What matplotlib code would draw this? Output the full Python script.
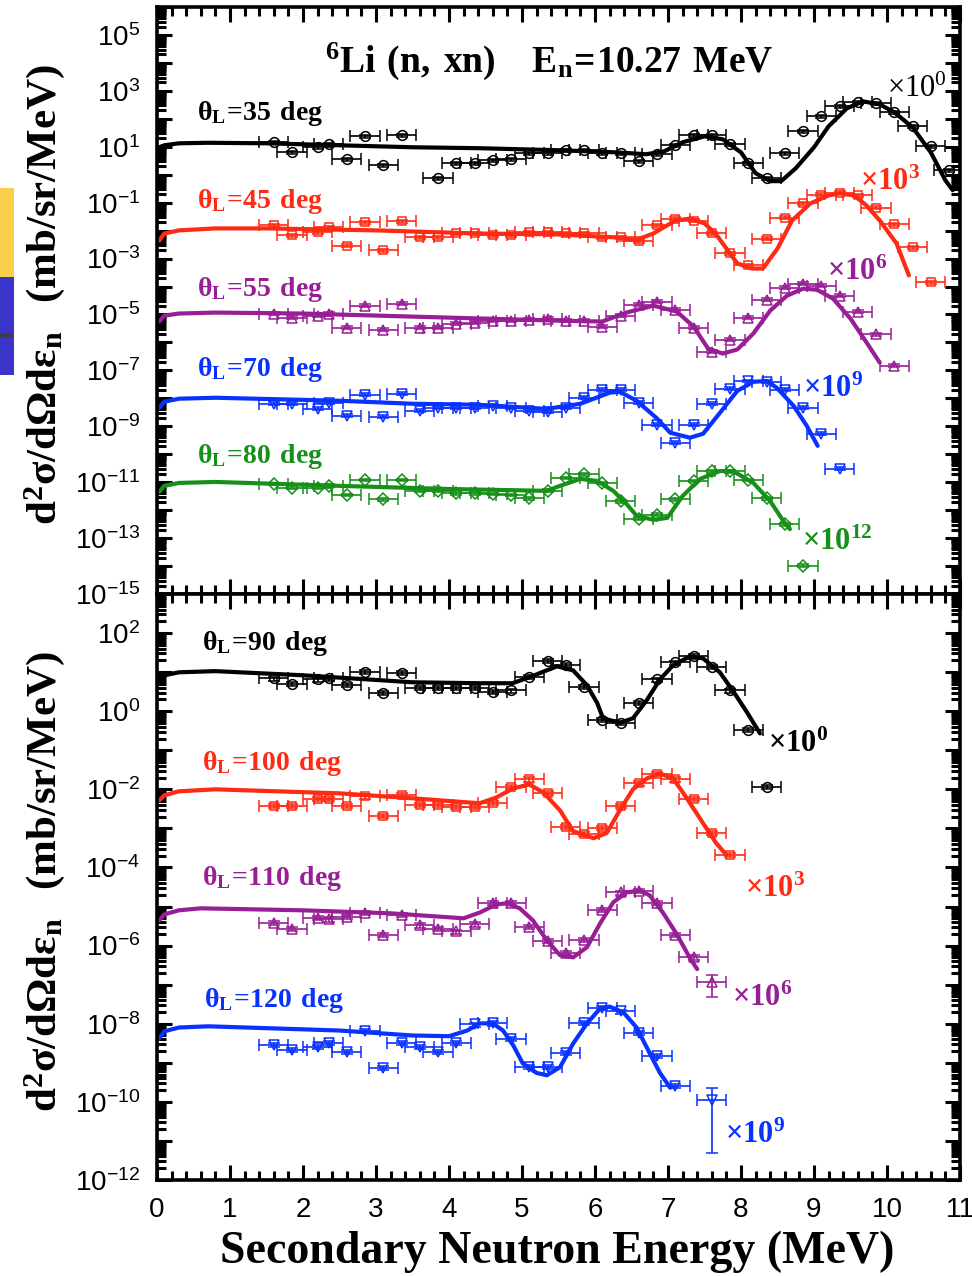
import numpy as np
import matplotlib
matplotlib.use("Agg")
import matplotlib.pyplot as plt
from matplotlib.ticker import (LogLocator, FixedLocator, FuncFormatter,
                               MultipleLocator, NullFormatter)
from matplotlib.patches import Rectangle

plt.rcParams['font.family'] = 'Liberation Sans'
plt.rcParams['mathtext.fontset'] = 'custom'
plt.rcParams['mathtext.rm'] = 'Liberation Sans'

# ---- data (mb/sr/MeV, unscaled) ----
XERR = 0.2        # MeV, energy bin half width
REL_ERR = 0.12    # typical relative uncertainty

# top panel
E35 = [1.6, 1.85, 2.2, 2.35, 2.6, 2.85, 3.1, 3.35, 3.85, 4.1, 4.35, 4.6, 4.85, 5.1, 5.35, 5.6, 5.85, 6.1, 6.35,
       6.6, 6.85, 7.1, 7.35, 7.6, 7.85, 8.1, 8.35, 8.6, 8.85, 9.1, 9.35, 9.6, 9.85, 10.1, 10.35, 10.6, 10.85]
Y35 = [14.5, 6.3, 9.6, 12.3, 3.6, 23.6, 2.2, 25.7, 0.75, 2.6, 2.6, 3.3, 3.6, 5.9, 5.9, 7.5, 7.5, 5.9, 5.9,
       3.0, 5.4, 11.3, 25.7, 25.7, 12.3, 2.6, 0.75, 5.9, 36, 122, 280, 386, 358, 171, 54, 10.4, 1.46]
CE35 = [0.03, 0.1, 0.3, 0.7, 1.5, 2.5, 3.5, 4.4, 5.5, 6.3, 6.7, 6.95, 7.2, 7.5, 7.75, 8.0, 8.2, 8.4, 8.55, 8.75,
        9.0, 9.2, 9.45, 9.67, 9.9, 10.1, 10.35, 10.6, 10.8, 10.9]
CY35 = [9.6, 11.3, 13.3, 13.9, 13.3, 11.3, 9.6, 8.9, 7.5, 6.3, 5.4, 6.9, 14.5, 23.6, 18.5, 6.3, 1.13, 0.59, 0.59,
        1.7, 9.6, 54, 237, 421, 329, 171, 50, 6.3, 0.63, 0.28]

E45 = [1.6, 1.85, 2.2, 2.35, 2.6, 2.85, 3.1, 3.35, 3.6, 3.85, 4.1, 4.35, 4.6, 4.85, 5.1, 5.35, 5.6, 5.85, 6.1,
       6.35, 6.6, 6.85, 7.1, 7.35, 7.6, 7.85, 8.1, 8.35, 8.6, 8.85, 9.1, 9.35, 9.6, 9.85, 10.1, 10.35, 10.6]
Y45 = [15.3, 6.7, 8.7, 13.0, 2.9, 19.6, 2.0, 21.3, 5.7, 5.7, 7.9, 7.9, 6.7, 6.7, 8.7, 8.7, 7.9, 7.9, 5.7,
       5.7, 4.1, 15.3, 27, 23, 7.9, 1.53, 0.57, 5.2, 29, 94, 196, 231, 181, 67, 16.7, 2.5, 0.14]
CE45 = [0.03, 0.1, 0.3, 0.8, 1.5, 3.0, 4.4, 5.5, 6.3, 6.55, 6.8, 7.1, 7.3, 7.5, 7.65, 7.8, 7.95, 8.15, 8.3,
        8.5, 8.7, 8.95, 9.2, 9.35, 9.55, 9.72, 9.9, 10.13, 10.3]
CY45 = [4.4, 7.9, 10.2, 12.0, 12.0, 10.2, 7.9, 7.3, 5.7, 4.5, 7.9, 23, 27, 18.1, 7.9, 2.3, 0.67, 0.44, 0.44,
        2.3, 23, 94, 181, 214, 181, 79, 23, 3.5, 0.25]

E55 = [1.6, 1.85, 2.2, 2.35, 2.6, 2.85, 3.1, 3.35, 3.6, 3.85, 4.1, 4.35, 4.6, 4.85, 5.1, 5.35, 5.6, 5.85,
       6.1, 6.35, 6.6, 6.85, 7.1, 7.35, 7.6, 7.85, 8.1, 8.35, 8.6, 8.85, 9.1, 9.35, 9.6, 9.85, 10.1]
Y55 = [10.8, 7.7, 9.1, 10.8, 3.4, 20.7, 2.9, 24.5, 3.4, 3.4, 4.7, 5.1, 6.0, 6.0, 6.6, 7.1, 6.0, 6.0,
       3.7, 9.1, 22.4, 28.6, 14.9, 3.4, 0.47, 1.27, 7.7, 34, 91, 127, 108, 47, 12.7, 1.94, 0.147]
CE55 = [0.03, 0.1, 0.3, 0.8, 2.0, 3.5, 4.5, 5.5, 6.1, 6.43, 6.8, 7.12, 7.35, 7.55, 7.75, 7.95, 8.17, 8.4,
        8.63, 8.85, 9.04, 9.26, 9.5, 9.73, 9.9]
CY55 = [5.6, 9.1, 10.8, 11.7, 10.8, 8.4, 7.1, 6.0, 5.6, 11.7, 20.7, 12.7, 3.7, 0.60, 0.40, 0.56, 2.1, 13.8,
        47, 84, 77, 37, 7.1, 0.91, 0.19]

E70 = [1.6, 1.85, 2.2, 2.35, 2.6, 2.85, 3.1, 3.35, 3.6, 3.85, 4.1, 4.35, 4.6, 4.85, 5.1, 5.35, 5.6, 5.85,
       6.1, 6.35, 6.6, 6.85, 7.1, 7.35, 7.6, 7.85, 8.1, 8.35, 8.6, 8.85, 9.1, 9.35]
Y70 = [6.4, 6.4, 4.2, 6.9, 2.4, 13.4, 2.2, 14.6, 3.6, 4.6, 4.6, 4.6, 5.4, 4.6, 3.6, 3.3, 4.6, 10.5,
       20.2, 20.2, 6.9, 1.13, 0.26, 1.13, 6.4, 21.9, 42, 39, 20.2, 4.6, 0.54, 0.030]
CE70 = [0.03, 0.1, 0.3, 0.8, 2.5, 3.5, 4.4, 5.34, 5.8, 6.2, 6.34, 6.57, 6.85, 7.03, 7.3, 7.48, 7.71, 7.95,
        8.17, 8.35, 8.49, 8.72, 8.9, 9.05]
CY70 = [4.6, 7.6, 9.7, 10.5, 8.2, 6.4, 5.9, 4.2, 6.4, 15.9, 17.2, 8.2, 1.9, 0.59, 0.39, 0.54, 3.0, 18.6,
        39, 42, 23.9, 5.4, 1.05, 0.20]

E80 = [1.6, 1.85, 2.2, 2.35, 2.6, 2.85, 3.1, 3.35, 3.6, 3.85, 4.1, 4.35, 4.6, 4.85, 5.1, 5.35, 5.6, 5.85,
       6.1, 6.35, 6.6, 6.85, 7.1, 7.35, 7.6, 7.85, 8.1, 8.35, 8.6, 8.85]
Y80 = [8.7, 6.3, 6.3, 7.4, 3.5, 12.1, 2.5, 12.1, 4.9, 4.9, 4.1, 4.1, 3.8, 3.5, 2.7, 4.9, 14.2, 19.7,
       9.4, 2.1, 0.49, 0.68, 2.5, 11.1, 25, 25, 12.1, 2.7, 0.32, 0.0102]
CE80 = [0.03, 0.1, 0.3, 0.8, 2.5, 4.0, 5.34, 5.52, 5.8, 6.03, 6.25, 6.43, 6.57, 6.8, 6.99, 7.2, 7.44, 7.71,
        7.89, 8.17, 8.4, 8.58, 8.67]
CY80 = [4.5, 7.4, 9.4, 10.2, 7.4, 5.7, 4.9, 7.4, 13.1, 11.1, 4.9, 1.69, 0.63, 0.45, 0.53, 3.2, 13.1, 25,
        25, 9.4, 2.1, 0.41, 0.21]

# bottom panel
E90 = [1.6, 1.85, 2.2, 2.35, 2.6, 2.85, 3.1, 3.35, 3.6, 3.85, 4.1, 4.35, 4.6, 4.85, 5.1, 5.35, 5.6, 5.85,
       6.1, 6.35, 6.6, 6.85, 7.1, 7.35, 7.6, 7.85, 8.1, 8.35]
Y90 = [6.9, 5.0, 6.5, 6.9, 4.6, 9.9, 2.9, 9.4, 3.9, 3.9, 3.9, 3.9, 3.1, 3.4, 7.4, 18.9, 15.0, 4.2,
       0.60, 0.50, 1.62, 6.5, 17.7, 25.3, 13.3, 3.4, 0.33, 0.0117]
CE90 = [0.03, 0.1, 0.3, 0.8, 2.0, 3.5, 4.4, 4.87, 5.1, 5.48, 5.7, 5.89, 6.03, 6.11, 6.34, 6.52, 6.71, 6.89,
        7.07, 7.3, 7.48, 7.71, 7.9, 8.08, 8.26]
CY90 = [6.2, 8.3, 9.9, 10.6, 8.3, 5.5, 5.2, 5.2, 7.4, 14.1, 11.1, 4.6, 1.62, 0.66, 0.50, 0.66, 1.92, 6.5,
        15.0, 25.3, 22.5, 9.9, 3.1, 0.95, 0.27]

E100 = [1.6, 1.85, 2.2, 2.35, 2.6, 2.85, 3.1, 3.35, 3.6, 3.85, 4.1, 4.35, 4.6, 4.85, 5.1, 5.35, 5.6, 5.85,
        6.1, 6.35, 6.6, 6.85, 7.1, 7.35, 7.6, 7.85]
Y100 = [3.7, 3.7, 5.6, 5.6, 3.7, 6.6, 2.1, 7.0, 3.9, 3.9, 3.5, 3.5, 4.6, 11.8, 18.0, 7.9, 1.07, 0.71,
        1.01, 3.7, 14.2, 25.4, 18.0, 5.6, 0.76, 0.21]
CE100 = [0.03, 0.1, 0.3, 0.8, 2.5, 3.5, 4.42, 4.65, 4.88, 5.1, 5.29, 5.52, 5.7, 5.98, 6.16, 6.34, 6.52,
         6.71, 6.89, 7.07, 7.25, 7.48, 7.66, 7.8]
CY100 = [5.2, 7.0, 8.9, 10.0, 7.9, 5.9, 4.4, 6.2, 10.6, 13.3, 8.4, 2.9, 0.85, 0.56, 0.76, 2.9, 10.0,
         19.0, 25.4, 19.0, 6.2, 1.36, 0.42, 0.21]

E110 = [1.6, 1.85, 2.2, 2.35, 2.6, 2.85, 3.1, 3.35, 3.6, 3.85, 4.1, 4.35, 4.6, 4.85, 5.1, 5.35, 5.6, 5.85,
        6.1, 6.35, 6.6, 6.85, 7.1, 7.35, 7.6]
Y110 = [3.9, 2.7, 5.0, 4.7, 5.3, 6.7, 1.84, 6.0, 3.3, 2.7, 2.3, 3.5, 12.1, 12.1, 3.0, 1.30, 0.64, 1.37,
        8.0, 22.9, 25.7, 12.1, 1.84, 0.50, 0.117]
CE110 = [0.03, 0.1, 0.3, 0.6, 2.0, 3.2, 4.2, 4.42, 4.65, 4.79, 4.97, 5.15, 5.34, 5.52, 5.7, 5.89, 6.07,
         6.25, 6.43, 6.62, 6.75, 6.93, 7.12, 7.3, 7.4]
CY110 = [4.4, 6.3, 8.0, 9.0, 8.0, 6.7, 5.0, 7.0, 11.3, 12.1, 9.0, 4.4, 1.37, 0.57, 0.50, 0.91, 3.7,
         12.8, 22.9, 25.7, 19.2, 7.0, 1.96, 0.48, 0.25]

E120 = [1.6, 1.85, 2.2, 2.35, 2.6, 2.85, 3.1, 3.35, 3.6, 3.85, 4.1, 4.35, 4.6, 4.85, 5.1, 5.35, 5.6, 5.85,
        6.1, 6.35, 6.6, 6.85, 7.1, 7.6]
Y120 = [2.8, 2.1, 2.5, 3.3, 1.86, 6.4, 0.73, 3.3, 2.6, 1.86, 3.3, 9.6, 10.2, 4.0, 0.77, 0.77, 1.75, 10.7,
        26, 20.6, 5.7, 1.47, 0.26, 0.111]
CE120 = [0.03, 0.1, 0.3, 0.7, 2.5, 3.5, 4.0, 4.25, 4.42, 4.6, 4.74, 4.88, 5.01, 5.2, 5.34, 5.52, 5.7,
         5.89, 6.07, 6.2, 6.39, 6.57, 6.75, 6.89, 7.03]
CY120 = [4.2, 6.4, 8.0, 8.6, 6.7, 5.0, 4.8, 6.7, 10.2, 10.2, 6.7, 2.8, 0.97, 0.55, 0.48, 0.77, 3.1,
         10.2, 24.5, 27.4, 19.4, 8.0, 1.75, 0.55, 0.23]

# last points with large uncertainty (lower, upper)
ERR110_LAST = (0.068, 0.060)
ERR120_LAST = (0.106, 0.118)

RED, PURPLE, BLUE, GREEN = '#ff2a14', '#981e96', '#0a32ff', '#17901a'
SERIF = dict(family='Liberation Serif', weight='bold')

fig = plt.figure(figsize=(9.72, 12.76), dpi=100)
ax_top = fig.add_axes([0.16152, 0.53448, 0.82613, 0.46003])
ax_bot = fig.add_axes([0.16152, 0.075235, 0.82613, 0.45925])


def draw(ax, e, y, ce, cy, scale, color, marker, ms=7, last_err=None):
    y = np.array(y) * scale
    lo = y * REL_ERR
    hi = y * REL_ERR
    if last_err is not None:
        lo[-1] = last_err[0] * scale
        hi[-1] = last_err[1] * scale
    ax.errorbar(e, y, xerr=XERR, yerr=[lo, hi], fmt=marker, mfc='none', mec=color,
                ms=ms, mew=1.1, ecolor=color, elinewidth=1.2, capsize=4.5,
                capthick=1.2, zorder=2)
    ax.plot(ce, np.array(cy) * scale, color=color, lw=3, zorder=3,
            solid_capstyle='round')


draw(ax_top, E35, Y35, CE35, CY35, 1, 'black', 'o')
draw(ax_top, E45, Y45, CE45, CY45, 1e-3, RED, 's', ms=6)
draw(ax_top, E55, Y55, CE55, CY55, 1e-6, PURPLE, '^')
draw(ax_top, E70, Y70, CE70, CY70, 1e-9, BLUE, 'v')
draw(ax_top, E80, Y80, CE80, CY80, 1e-12, GREEN, 'D', ms=6)

draw(ax_bot, E90, Y90, CE90, CY90, 1, 'black', 'o')
draw(ax_bot, E100, Y100, CE100, CY100, 1e-3, RED, 's', ms=6)
draw(ax_bot, E110, Y110, CE110, CY110, 1e-6, PURPLE, '^', last_err=ERR110_LAST)
draw(ax_bot, E120, Y120, CE120, CY120, 1e-9, BLUE, 'v', last_err=ERR120_LAST)


def style(ax, lo, hi, shown):
    ax.set_xlim(0, 11)
    ax.set_yscale('log')
    ax.set_ylim(10.0 ** lo, 10.0 ** hi)
    ax.xaxis.set_major_locator(MultipleLocator(1))
    ax.xaxis.set_minor_locator(MultipleLocator(0.2))
    ax.xaxis.set_major_formatter(FuncFormatter(lambda v, p: '%d' % round(v)))
    ax.yaxis.set_major_locator(FixedLocator([10.0 ** k for k in range(lo, hi + 1)]))
    ax.yaxis.set_minor_locator(LogLocator(base=10, subs=np.arange(2, 10), numticks=300))
    ax.yaxis.set_minor_formatter(NullFormatter())

    def fmt(v, p):
        k = int(round(np.log10(v)))
        return r'$\mathregular{10^{%d}}$' % k if k in shown else ''
    ax.yaxis.set_major_formatter(FuncFormatter(fmt))
    ax.tick_params(which='both', direction='in', top=True, right=True, width=2.2)
    ax.tick_params(which='major', length=11, labelsize=20)
    ax.tick_params(which='minor', length=6.5)
    ax.tick_params(axis='y', pad=12)
    ax.tick_params(axis='x', pad=12)
    for s in ax.spines.values():
        s.set_linewidth(2.6)
        s.set_zorder(5)


style(ax_top, -15, 6, range(-15, 6, 2))
style(ax_bot, -12, 3, range(-12, 3, 2))
ax_top.tick_params(labelbottom=False)

# angle labels
angle_top = [(r'35', 0.55, 1.953, 'black'), (r'45', 0.55, -1.20, RED),
             (r'55', 0.55, -4.355, PURPLE), (r'70', 0.55, -7.19, BLUE),
             (r'80', 0.55, -10.30, GREEN)]
angle_bot = [(r'90', 0.62, 1.565, 'black'), (r'100', 0.62, -1.508, RED),
             (r'110', 0.62, -4.45, PURPLE), (r'120', 0.64, -7.57, BLUE)]
for ax, lst in ((ax_top, angle_top), (ax_bot, angle_bot)):
    for ang, x, ex, c in lst:
        ax.text(x, 10.0 ** ex, r'$\mathregular{\theta_{L}\!=\!%s\ deg}$' % ang,
                color=c, fontsize=20, va='baseline', ha='left', **SERIF)

# scale factor labels
scale_top = [('0', 10.0, 2.778, 'black', 'normal'), ('3', 9.63, -0.556, RED, 'bold'),
             ('6', 9.18, -3.78, PURPLE, 'bold'), ('9', 8.85, -7.94, BLUE, 'bold'),
             ('12', 8.84, -13.42, GREEN, 'bold')]
scale_bot = [('0', 8.37, -1.047, 'black', 'bold'), ('3', 8.05, -4.76, RED, 'bold'),
             ('6', 7.88, -7.55, PURPLE, 'bold'), ('9', 7.78, -11.06, BLUE, 'bold')]
for ax, lst in ((ax_top, scale_top), (ax_bot, scale_bot)):
    for p, x, ex, c, w in lst:
        ax.text(x, 10.0 ** ex, r'$\mathregular{\times10^{%s}}$' % p, color=c, fontsize=22,
                va='baseline', ha='left', family='Liberation Serif', weight=w)

ax_top.text(2.3, 10.0 ** 3.674,
            r'$\mathregular{{}^{6}Li\ (n,\,xn)\quad E_{n}\!=\!10.27\ MeV}$',
            fontsize=27, va='baseline', ha='left', **SERIF)

ylab = r'$\mathregular{d^{2}\sigma/d\Omega d\varepsilon_{n}\ \ (mb/sr/MeV)}$'
fig.text(0.0453, 0.7696, ylab, rotation=90, ha='center', va='center', fontsize=31, **SERIF)
fig.text(0.0453, 0.3096, ylab, rotation=90, ha='center', va='center', fontsize=31, **SERIF)
fig.text(0.573, 0.0102, 'Secondary Neutron Energy (MeV)', ha='center', va='baseline',
         fontsize=33, **SERIF)

# slide background strips at left edge
fig.add_artist(Rectangle((0, 0.7829), 0.0144, 0.0697, transform=fig.transFigure,
                         facecolor='#fad04a', edgecolor='none'))
fig.add_artist(Rectangle((0, 0.7061), 0.0144, 0.0768, transform=fig.transFigure,
                         facecolor='#3a34c8', edgecolor='none'))
fig.add_artist(Rectangle((0, 0.7351), 0.0144, 0.0039, transform=fig.transFigure,
                         facecolor='#404040', edgecolor='none'))

fig.savefig('out.png', dpi=100)
